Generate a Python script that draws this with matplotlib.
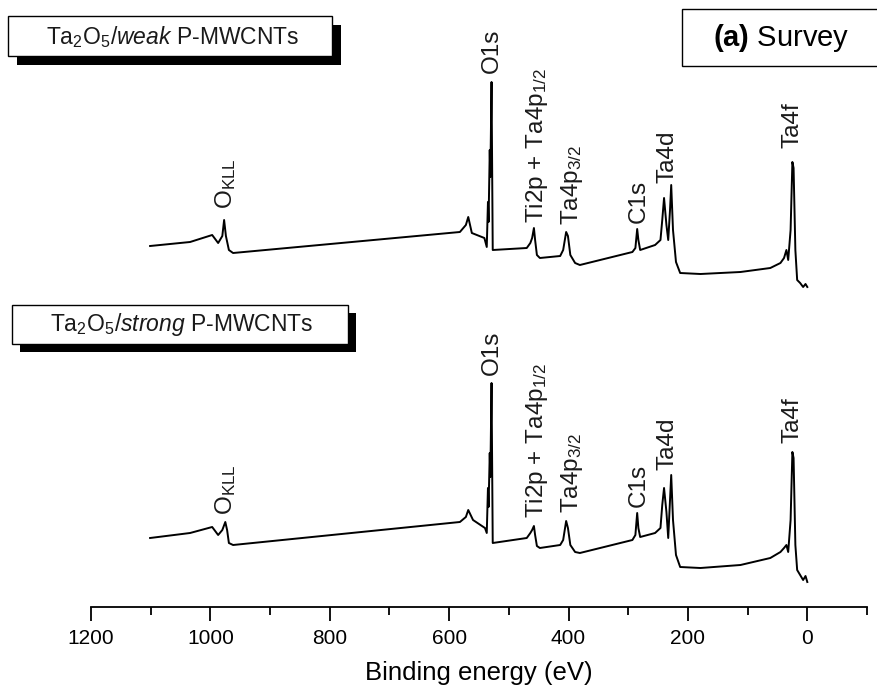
import matplotlib
matplotlib.use('Agg')
import matplotlib.pyplot as plt
from matplotlib.patches import Rectangle
from matplotlib.ticker import MultipleLocator

plt.rcParams['font.family'] = ['Liberation Sans', 'DejaVu Sans']
plt.rcParams['mathtext.fontset'] = 'custom'
plt.rcParams['mathtext.rm'] = 'Liberation Sans'
plt.rcParams['mathtext.it'] = 'Liberation Sans:italic'
plt.rcParams['mathtext.bf'] = 'Liberation Sans:bold'

# ---- survey spectra (binding energy in eV, intensity in a.u.) ----
energy_weak = [1101, 1034, 997, 987, 980, 977, 974, 969, 962, 582, 572, 568, 562, 541,
               537, 535, 534, 532, 531, 529, 527, 470, 464, 461, 458, 456, 453, 448, 414,
               409, 404, 401, 397, 389, 381, 293, 288, 285, 283, 280, 255, 246,
               243, 240, 236, 233, 230, 228, 225, 220, 213, 179, 112, 62, 45,
               39, 35, 32, 28, 25, 23, 20, 17, 12, 7, 3, 0]
counts_weak = [71, 75, 82, 74, 81, 97, 81, 67, 64, 85, 92, 100, 84, 79,
               70, 115, 95, 167, 140, 235, 67, 69, 74, 79, 89, 77, 62, 59, 61,
               67, 85, 81, 62, 54, 52, 65, 69, 88, 77, 67, 72, 77,
               97, 119, 92, 77, 107, 132, 87, 55, 44, 43, 45, 49, 54,
               59, 67, 57, 87, 155, 149, 67, 37, 34, 30, 33, 30]

energy_strong = [1101, 1034, 997, 987, 980, 975, 972, 969, 962, 582, 572, 568, 560, 540,
                 537, 535, 534, 532, 531, 529, 527, 470, 464, 461, 458, 456, 453, 448, 414,
                 409, 404, 401, 397, 389, 381, 293, 288, 285, 283, 280, 255, 246,
                 243, 240, 236, 233, 230, 228, 225, 220, 213, 179, 112, 62, 45,
                 39, 35, 32, 28, 25, 23, 20, 17, 12, 7, 3, 0]
counts_strong = [69, 74, 80, 72, 77, 85, 77, 64, 62, 85, 90, 97, 87, 79,
                 74, 119, 100, 154, 130, 224, 64, 69, 74, 77, 81, 72, 61, 59, 62,
                 67, 86, 79, 62, 55, 54, 67, 72, 94, 79, 70, 74, 79,
                 102, 119, 95, 69, 107, 132, 87, 52, 40, 39, 42, 49, 55,
                 59, 62, 55, 87, 155, 149, 62, 37, 32, 27, 31, 25]

# peak labels: text, energy, label height (weak / strong)
peak_labels = [r'O$_{\mathrm{KLL}}$', 'O1s', r'Ti2p + Ta4p$_{1/2}$', r'Ta4p$_{3/2}$',
               'C1s', 'Ta4d', 'Ta4f']
peak_energy = [975, 528, 452, 395, 283, 235, 25]
label_y_weak = [108, 244, 94, 92, 94, 134, 169]
label_y_strong = [92, 232, 89, 94, 100, 137, 164]

weak_offset = 290

W, H = 877, 697
fig = plt.figure(figsize=(W / 100, H / 100), dpi=100)
ax = fig.add_axes([91 / W, 90 / H, 776 / W, 607 / H])

ax.plot(energy_weak, [c + weak_offset for c in counts_weak], color='black', lw=1.4)
ax.plot(energy_strong, counts_strong, color='black', lw=1.4)

for txt, e, yw, ys in zip(peak_labels, peak_energy, label_y_weak, label_y_strong):
    ax.text(e, yw + weak_offset, txt, rotation=90, ha='center', va='bottom',
            fontsize=17.5, color='#1a1a1a')
    ax.text(e, ys, txt, rotation=90, ha='center', va='bottom',
            fontsize=17.5, color='#1a1a1a')

ax.set_xlim(1200, -100)
ax.set_ylim(0, 607)
for s in ['top', 'left', 'right']:
    ax.spines[s].set_visible(False)
ax.spines['bottom'].set_linewidth(1.3)
ax.set_yticks([])
ax.xaxis.set_major_locator(MultipleLocator(200))
ax.xaxis.set_minor_locator(MultipleLocator(100))
ax.tick_params(axis='x', which='major', length=10, width=1.3, pad=6, labelsize=15)
ax.tick_params(axis='x', which='minor', length=6, width=1.3)
ax.set_xlabel('Binding energy (eV)', fontsize=18.5, labelpad=9)


def box(x0, y0, x1, y1, shadow=None):
    # pixel coords from top-left of the figure
    if shadow:
        fig.add_artist(Rectangle(((x0 + shadow) / W, 1 - (y1 + shadow) / H),
                                 (x1 - x0) / W, (y1 - y0) / H,
                                 transform=fig.transFigure, facecolor='black',
                                 edgecolor='black', lw=0))
    fig.add_artist(Rectangle((x0 / W, 1 - y1 / H), (x1 - x0) / W, (y1 - y0) / H,
                             transform=fig.transFigure, facecolor='white',
                             edgecolor='black', lw=1.0))


box(8, 16, 332, 56, shadow=9)
fig.text(173 / W, 1 - 37 / H, r'Ta$_2$O$_5$/$\mathit{weak}$ P-MWCNTs', ha='center',
         va='center', fontsize=16.5, color='#1a1a1a')
box(12, 305, 348, 344, shadow=8)
fig.text(182 / W, 1 - 325 / H, r'Ta$_2$O$_5$/$\mathit{strong}$ P-MWCNTs', ha='center',
         va='center', fontsize=16.5, color='#1a1a1a')
box(682, 9, 880, 66)
fig.text(781 / W, 1 - 38 / H, r'$\mathbf{(a)}$ Survey', ha='center', va='center',
         fontsize=21, color='black')

fig.savefig('out.png', dpi=100)
